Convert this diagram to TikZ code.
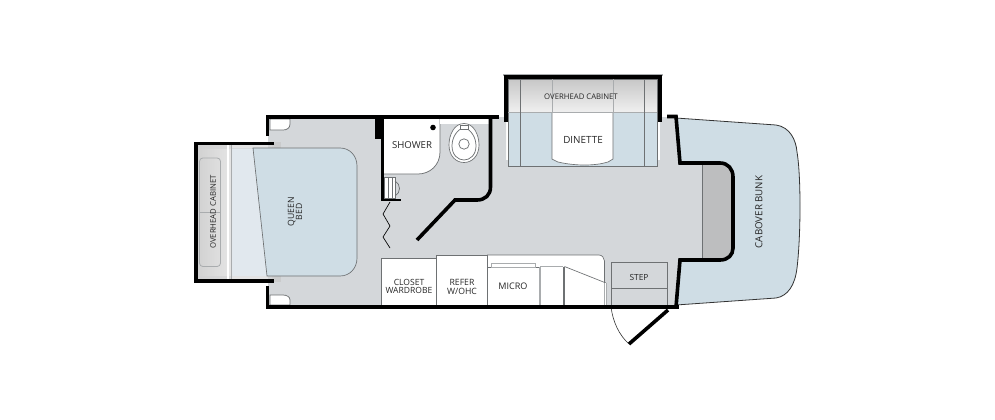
\documentclass[tikz,border=0pt]{standalone}
\usepackage{fontspec}
\setmainfont{Open Sans}
\definecolor{floorc}{HTML}{D4D7DA}
\definecolor{bluec}{HTML}{CFDDE5}
\definecolor{lightb}{HTML}{E1E8EE}
\definecolor{darkg}{HTML}{BDBEBF}
\definecolor{lineg}{HTML}{6E7173}
\definecolor{paleg}{HTML}{A9ACAE}
\tikzset{
  wall/.style={draw=black,line width=2.7pt,line join=miter},
  thinwall/.style={draw=black,line width=2pt},
  fine/.style={draw=lineg,line width=0.55pt},
  pale/.style={draw=paleg,line width=0.6pt},
  box/.style={fill=white,draw=lineg,line width=0.55pt},
  lbl/.style={font=\fontsize{7.2pt}{7.3pt}\selectfont,text=black!85,align=center,inner sep=0pt},
  smalllbl/.style={font=\fontsize{5.8pt}{6pt}\selectfont,text=black!85,align=center,inner sep=0pt}
}
\begin{document}
\begin{tikzpicture}[x=0.75pt,y=-0.75pt]
\useasboundingbox (0,0) rectangle (995,419);
% cabover bunk
\path[fill=bluec,draw=black!80,line width=0.6pt] (676,118) -- (776,125)
  .. controls (790,127) and (796,140) .. (797,152)
  .. controls (801,175) and (801,235) .. (797,268)
  .. controls (795,285) and (788,296) .. (776,298) -- (676,305) -- cycle;
% floor
\path[fill=floorc] (268,117) -- (506,117) -- (506,160) -- (660,160) -- (660,117) -- (676,117) -- (680,163) -- (720,163)
  .. controls (728,163) and (733,169) .. (733,177) -- (733,248)
  .. controls (733,255) and (728,260) .. (720,260) -- (680,260) -- (676,306) -- (268,306) -- cycle;
% dark step at cab
\path[fill=darkg] (702,163) -- (720,163) .. controls (728,163) and (733,169) .. (733,177) -- (733,248)
  .. controls (733,255) and (728,260) .. (720,260) -- (702,260) -- cycle;
\draw[fine] (702,163) -- (702,260);
% bed slide
\path[fill=darkg!80] (272,142) rectangle (281,148);
\path[fill=darkg!80] (272,276) rectangle (281,282);
\path[fill=lightb] (232,148) -- (254,148) -- (267,276) -- (232,276) -- cycle;
\path[left color=white!82!black,right color=white!90!black] (197,144) rectangle (232,281);
\path[fill=darkg!70,opacity=.6] (197,144) rectangle (274,149);
\path[fill=darkg!70,opacity=.6] (197,276) rectangle (274,280);
\path[fill=bluec,draw=lineg,line width=0.5pt] (253,148) -- (340,148) .. controls (350,148) and (357,156) .. (357,166)
  -- (357,258) .. controls (357,268) and (350,276) .. (340,276) -- (267,276) -- cycle;
\draw[draw=white,line width=0.8pt] (228,144) -- (228,281);
\draw[draw=paleg,line width=0.4pt] (231.5,144) -- (231.5,281);
\draw[pale,rounded corners=2.5pt] (199.5,158) rectangle (220.5,266.5);
\draw[pale] (199.5,212) -- (220.5,212);
% corner closets
\path[box] (270,119) -- (290,119) -- (290,124) .. controls (290,128) and (287,130) .. (283,130) -- (270,130) -- cycle;
\path[box] (270,305) -- (290,305) -- (290,300) .. controls (290,297) and (287,295) .. (283,295) -- (270,295) -- cycle;
% dinette slide
\path[top color=white!78!black,bottom color=white!94!black] (508,79) rectangle (657,112);
\path[fill=bluec] (508,112) rectangle (657,166);
\path[fill=white,draw=lineg,line width=0.5pt] (552,112) -- (552,159) -- (558,162) .. controls (575,166) and (595,166) .. (608,162) -- (613,159) -- (613,112);
\draw[fine] (508,79) rectangle (657,166);
\draw[pale] (508,112) -- (657,112);
\draw[fine] (520.5,79) -- (520.5,166) (644.5,79) -- (644.5,166);
\draw[pale] (552,79) -- (552,112) (613,79) -- (613,112);
\draw[draw=paleg,line width=0.8pt] (503,75) -- (663,75);
% shower
\path[box] (383,118) -- (440,118) -- (440,152) .. controls (440,165) and (430,174) .. (418,174) -- (383,174) -- cycle;
\path[fill=black] (433,127.5) circle (2.8);
% toilet niche
\path[fill=white] (440,118.5) rectangle (489,124);
\path[fill=white,draw=lineg,line width=0.5pt] (464,123.5) .. controls (474,123.5) and (479,135) .. (479,145)
  .. controls (479,156) and (472,162.5) .. (464,162.5) .. controls (456,162.5) and (449,156) .. (449,145)
  .. controls (449,135) and (454,123.5) .. (464,123.5) -- cycle;
\draw[fine] (464,127) .. controls (471,130) and (476,137) .. (476,146) .. controls (476,155) and (470,160) .. (464,160)
  .. controls (458,160) and (452,155) .. (452,146) .. controls (452,137) and (457,130) .. (464,127) -- cycle;
\path[fill=white,draw=lineg,line width=0.5pt] (460,125.5) rectangle (468,129.5);
\draw[fine] (464,144) circle (5.2);
% shower stripes
\path[box] (384,177) rectangle (395,198);
\draw[fine] (388,177) -- (388,198) (392,177) -- (392,198);
\draw[fine] (395,181) .. controls (401,184) and (401,193) .. (395,196);
% walls of bathroom
\draw[thinwall] (382.5,118) -- (382.5,200) -- (401,200);
\path[fill=black] (374.5,118) rectangle (383,139);
\draw[wall] (490.5,118) -- (490.5,187) .. controls (490.5,195) and (485,200) .. (477,200) -- (455,200) -- (417,240);
% zigzag
\draw[draw=black,line width=0.5pt] (390,202) -- (383,214) -- (390,226) -- (383,237) -- (390,248);
% galley
\path[box] (381,258.5) rectangle (436.5,306);
\path[fill=white,draw=lineg,line width=0.5pt] (487.5,255) -- (599,255) .. controls (602,255) and (604.5,258) .. (604.5,261) -- (604.5,306) -- (487.5,306) -- cycle;
\path[box] (436.5,255) rectangle (487.5,306);
\path[box] (487.5,267.5) rectangle (540,306);
\path[fill=white,draw=paleg,line width=0.6pt] (491.5,263.5) rectangle (535,267.5);
\draw[draw=paleg,line width=1.2pt] (540,266.5) -- (540,306) (540,266.5) -- (563,266.5);
\draw[draw=lineg,line width=0.5pt] (563,266.5) -- (563,306) (564.5,266.5) -- (564.5,306);
\draw[draw=lineg,line width=0.5pt] (564.5,266.5) -- (606,283);
\path[fill=white] (604.6,283) rectangle (607,306);
\draw[draw=paleg,line width=0.7pt] (604.5,283) -- (604.5,306) (606.8,283) -- (606.8,306);
% step
\draw[fine] (611,306) -- (611,262.5) -- (667.5,262.5) -- (667.5,306) (611,288.5) -- (667.5,288.5);
% door
\draw[draw=black!80,line width=0.45pt] (611,307) .. controls (613,322) and (619,335) .. (629,344);
\draw[wall] (668,310) -- (629,344);
% main walls
\draw[wall] (267.5,136) -- (267.5,117) -- (499,117);
\draw[wall] (267.5,286) -- (267.5,307) -- (679,307);
\draw[wall] (667,116.5) -- (676,116.5) -- (680,163) -- (720,163)
  .. controls (728,163) and (733,169) .. (733,177) -- (733,248)
  .. controls (733,255) and (728,260) .. (720,260) -- (680,260) -- (676,307);
% slides
\draw[wall] (274,143.5) -- (196,143.5) -- (196,281) -- (274,281);
\draw[draw=black,line width=3pt] (505.5,122) -- (505.5,77) -- (660,77) -- (660,122);
% text
\node[lbl] (shower) at (412,145.5) {SHOWER};
\node[lbl,font=\fontsize{7.4pt}{7.4pt}\selectfont] (dinette) at (583,139.5) {DINETTE};
\node[smalllbl] (ohtop) at (581,97) {OVERHEAD CABINET};
\node[smalllbl,rotate=90] (ohleft) at (213,212) {OVERHEAD CABINET};
\node[lbl,font=\fontsize{6.5pt}{6.6pt}\selectfont,rotate=90] (queen) at (295,212) {QUEEN\\[-0.5pt]BED};
\node[lbl,font=\fontsize{7.3pt}{7.3pt}\selectfont,rotate=90] (bunk) at (759,212) {CABOVER BUNK};
\node[smalllbl,font=\fontsize{6.4pt}{6.4pt}\selectfont] (closet) at (409,286.5) {CLOSET\\WARDROBE};
\node[smalllbl,font=\fontsize{6.5pt}{6.5pt}\selectfont] (refer) at (462,287) {REFER\\W/OHC};
\node[lbl,font=\fontsize{6.8pt}{6.8pt}\selectfont] (micro) at (513,286) {MICRO};
\node[smalllbl,font=\fontsize{6.3pt}{6.3pt}\selectfont] (stepl) at (639,277) {STEP};
\end{tikzpicture}
\end{document}
